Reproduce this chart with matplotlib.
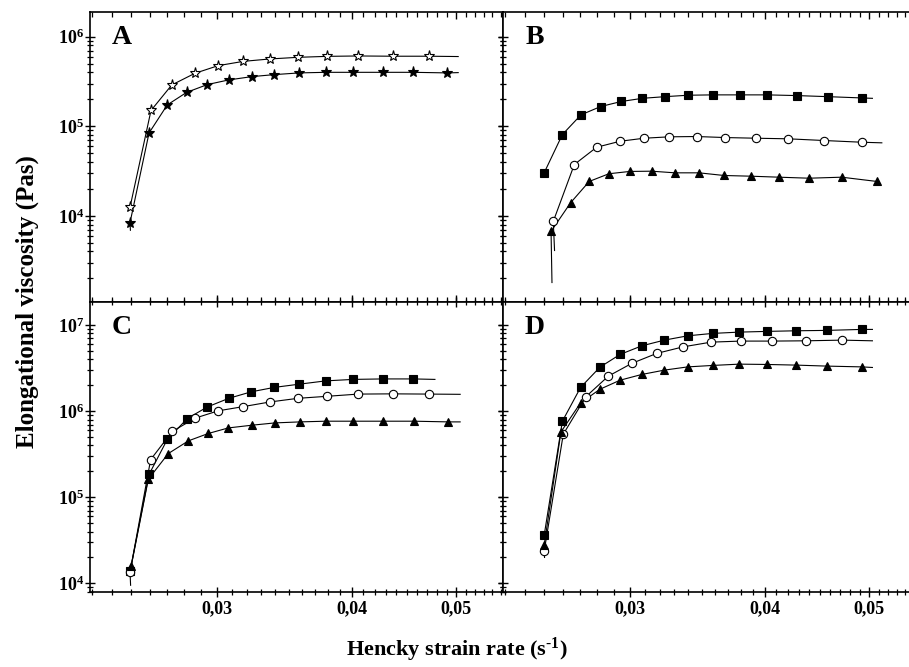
import numpy as np
import matplotlib
matplotlib.use('Agg')
import matplotlib.pyplot as plt
from matplotlib.ticker import (FixedLocator, LogLocator, NullFormatter,
                               FixedFormatter, LogFormatterSciNotation)

plt.rcParams['font.family'] = ['Liberation Serif', 'DejaVu Serif']
plt.rcParams['font.weight'] = 'bold'
plt.rcParams['mathtext.fontset'] = 'custom'
plt.rcParams['mathtext.rm'] = 'Liberation Serif:bold'
plt.rcParams['mathtext.bf'] = 'Liberation Serif:bold'
plt.rcParams['mathtext.it'] = 'Liberation Serif:bold:italic'
plt.rcParams['mathtext.default'] = 'bf'

# ---------------- data ----------------
# Panel A (stars)
a_open_x = [0.02494, 0.02608, 0.02726, 0.02864, 0.03010, 0.03175, 0.03361, 0.03566, 0.03798, 0.04057, 0.04366, 0.04720]
a_open_y = [1.25e4, 1.50e5, 2.89e5, 3.90e5, 4.75e5, 5.30e5, 5.64e5, 5.88e5, 6.03e5, 6.09e5, 6.05e5, 6.05e5]
a_open_end = (0.0502, 6.0e5)
a_fill_x = [0.02494, 0.02597, 0.02700, 0.02814, 0.02941, 0.03078, 0.03233, 0.03392, 0.03578, 0.03785, 0.04014, 0.04274, 0.04562, 0.04906]
a_fill_y = [8.4e3, 8.4e4, 1.73e5, 2.39e5, 2.92e5, 3.29e5, 3.58e5, 3.77e5, 3.94e5, 4.0e5, 4.0e5, 4.0e5, 4.0e5, 3.94e5]
a_fill_start = (0.02496, 6.9e3)
a_fill_end = (0.0502, 3.97e5)

# Panel B
b_sq_x = [0.02499, 0.02599, 0.02704, 0.02820, 0.02947, 0.03082, 0.03235, 0.03399, 0.03585, 0.03796, 0.04022, 0.04283, 0.04576, 0.04921]
b_sq_y = [2.99e4, 8.08e4, 1.34e5, 1.66e5, 1.89e5, 2.05e5, 2.14e5, 2.22e5, 2.24e5, 2.24e5, 2.24e5, 2.20e5, 2.14e5, 2.07e5]
b_sq_end = (0.05033, 2.05e5)
b_ci_x = [0.02549, 0.02666, 0.02796, 0.02939, 0.03093, 0.03264, 0.03460, 0.03676, 0.03928, 0.04207, 0.04540, 0.04921]
b_ci_y = [8.66e3, 3.74e4, 5.83e4, 6.80e4, 7.35e4, 7.62e4, 7.68e4, 7.48e4, 7.35e4, 7.24e4, 6.93e4, 6.63e4]
b_ci_start = (0.02556, 4.1e3)
b_ci_end = (0.05135, 6.53e4)
b_tr_x = [0.02537, 0.02645, 0.02752, 0.02870, 0.03001, 0.03144, 0.03304, 0.03478, 0.03668, 0.03883, 0.04124, 0.04397, 0.04714, 0.05081]
b_tr_y = [6.7e3, 1.40e4, 2.42e4, 2.95e4, 3.13e4, 3.15e4, 3.02e4, 3.02e4, 2.82e4, 2.77e4, 2.70e4, 2.63e4, 2.70e4, 2.42e4]
b_tr_start = (0.02542, 1.8e3)

# Panel C
c_sq_x = [0.02494, 0.02597, 0.02700, 0.02818, 0.02941, 0.03078, 0.03230, 0.03392, 0.03578, 0.03785, 0.04014, 0.04274, 0.04562]
c_sq_y = [1.38e4, 1.84e5, 4.69e5, 8.22e5, 1.12e6, 1.41e6, 1.68e6, 1.89e6, 2.06e6, 2.25e6, 2.34e6, 2.37e6, 2.37e6]
c_sq_end = (0.04777, 2.34e6)
c_ci_x = [0.02494, 0.02606, 0.02729, 0.02864, 0.03010, 0.03175, 0.03361, 0.03566, 0.03798, 0.04057, 0.04366, 0.04720]
c_ci_y = [1.35e4, 2.74e5, 5.81e5, 8.29e5, 1.01e6, 1.13e6, 1.28e6, 1.41e6, 1.49e6, 1.58e6, 1.59e6, 1.58e6]
c_ci_start = (0.02497, 9.5e3)
c_ci_end = (0.05041, 1.57e6)
c_tr_x = [0.02500, 0.02593, 0.02706, 0.02824, 0.02947, 0.03075, 0.03236, 0.03397, 0.03583, 0.03785, 0.04014, 0.04274, 0.04570, 0.04917]
c_tr_y = [1.58e4, 1.62e5, 3.22e5, 4.52e5, 5.51e5, 6.39e5, 6.88e5, 7.31e5, 7.51e5, 7.65e5, 7.65e5, 7.65e5, 7.65e5, 7.51e5]
c_tr_end = (0.05041, 7.51e5)

# Panel D
d_sq_x = [0.02500, 0.02599, 0.02702, 0.02816, 0.02939, 0.03078, 0.03230, 0.03395, 0.03581, 0.03790, 0.04017, 0.04277, 0.04566, 0.04921]
d_sq_y = [3.61e4, 7.65e5, 1.89e6, 3.25e6, 4.56e6, 5.74e6, 6.69e6, 7.51e6, 8.01e6, 8.29e6, 8.45e6, 8.59e6, 8.68e6, 8.91e6]
d_sq_end = (0.05033, 8.91e6)
d_ci_x = [0.02500, 0.02604, 0.02732, 0.02866, 0.03013, 0.03178, 0.03362, 0.03568, 0.03801, 0.04062, 0.04366, 0.04720]
d_ci_y = [2.36e4, 5.40e5, 1.47e6, 2.55e6, 3.59e6, 4.69e6, 5.59e6, 6.34e6, 6.52e6, 6.52e6, 6.57e6, 6.69e6]
d_ci_start = (0.02502, 2.0e4)
d_ci_end = (0.05033, 6.57e6)
d_tr_x = [0.02500, 0.02591, 0.02702, 0.02816, 0.02939, 0.03078, 0.03230, 0.03395, 0.03581, 0.03790, 0.04017, 0.04277, 0.04566, 0.04921]
d_tr_y = [2.77e4, 5.74e5, 1.25e6, 1.80e6, 2.29e6, 2.67e6, 3.00e6, 3.27e6, 3.40e6, 3.52e6, 3.49e6, 3.43e6, 3.34e6, 3.27e6]
d_tr_end = (0.05033, 3.22e6)

x_major = [0.03, 0.04, 0.05]
x_major_labels = ['0,03', '0,04', '0,05']
panel_letters = ['A', 'B', 'C', 'D']
xlim = (0.0229, 0.05523)
ylim_top = (1.1e3, 1.9e6)
ylim_bot = (8.0e3, 1.87e7)

# ---------------- figure ----------------
W, H = 909, 667
fig = plt.figure(figsize=(W / 100, H / 100), dpi=100)

def rect(x0, y0, x1, y1):
    return [x0 / W, 1 - y1 / H, (x1 - x0) / W, (y1 - y0) / H]

axA = fig.add_axes(rect(90, 11.7, 503, 301.7))
axB = fig.add_axes(rect(503, 11.7, 916, 301.7))
axC = fig.add_axes(rect(90, 301.7, 503, 591.7))
axD = fig.add_axes(rect(503, 301.7, 916, 591.7))

LW = 0.8

def series(ax, mx, my, marker, filled, ms, start=None, end=None):
    lx, ly = list(mx), list(my)
    if start is not None:
        lx = [start[0]] + lx
        ly = [start[1]] + ly
    if end is not None:
        lx = lx + [end[0]]
        ly = ly + [end[1]]
    ax.plot(lx, ly, '-', color='black', lw=LW, zorder=2)
    ax.plot(mx, my, linestyle='none', marker=marker, markersize=ms,
            markerfacecolor='black' if filled else 'white',
            markeredgecolor='black', markeredgewidth=0.8, zorder=3)

series(axA, a_open_x, a_open_y, '*', False, 8.0, end=a_open_end)
series(axA, a_fill_x, a_fill_y, '*', True, 8.0, start=a_fill_start, end=a_fill_end)

series(axB, b_sq_x, b_sq_y, 's', True, 5.3, end=b_sq_end)
series(axB, b_ci_x, b_ci_y, 'o', False, 6.0, start=b_ci_start, end=b_ci_end)
series(axB, b_tr_x, b_tr_y, '^', True, 6.3, start=b_tr_start)

series(axC, c_sq_x, c_sq_y, 's', True, 5.3, end=c_sq_end)
series(axC, c_ci_x, c_ci_y, 'o', False, 6.0, start=c_ci_start, end=c_ci_end)
series(axC, c_tr_x, c_tr_y, '^', True, 6.3, end=c_tr_end)

series(axD, d_sq_x, d_sq_y, 's', True, 5.3, end=d_sq_end)
series(axD, d_ci_x, d_ci_y, 'o', False, 6.0, start=d_ci_start, end=d_ci_end)
series(axD, d_tr_x, d_tr_y, '^', True, 6.3, end=d_tr_end)

minor_x = [m / 1000 for m in range(23, 56) if m not in (30, 40, 50)]

for i, ax in enumerate([axA, axB, axC, axD]):
    top = i < 2
    left = i % 2 == 0
    ax.set_xscale('log')
    ax.set_yscale('log')
    ax.set_xlim(*xlim)
    ax.set_ylim(*(ylim_top if top else ylim_bot))
    ax.xaxis.set_major_locator(FixedLocator(x_major))
    ax.xaxis.set_minor_locator(FixedLocator(minor_x))
    ax.xaxis.set_minor_formatter(NullFormatter())
    if top:
        ax.xaxis.set_major_formatter(NullFormatter())
    else:
        ax.xaxis.set_major_formatter(FixedFormatter(x_major_labels))
    ax.yaxis.set_major_locator(LogLocator(base=10, numticks=10))
    ax.yaxis.set_minor_locator(LogLocator(base=10, subs=np.arange(2, 10), numticks=20))
    ax.yaxis.set_minor_formatter(NullFormatter())
    if left:
        ax.yaxis.set_major_formatter(LogFormatterSciNotation())
    else:
        ax.yaxis.set_major_formatter(NullFormatter())
    xdir = 'in' if top else 'inout'
    ax.tick_params(axis='x', which='major', direction=xdir, length=7 if xdir == 'inout' else 5,
                   width=1.0, top=True, bottom=True, labelsize=13, pad=3)
    ax.tick_params(axis='x', which='minor', direction=xdir, length=4.5 if xdir == 'inout' else 3.5,
                   width=0.9, top=True, bottom=True)
    ax.tick_params(axis='y', which='major', direction='inout', length=7, width=1.0,
                   left=True, right=True, labelsize=13, pad=1)
    ax.tick_params(axis='y', which='minor', direction='inout', length=5, width=0.9,
                   left=True, right=True)
    for sp in ax.spines.values():
        sp.set_linewidth(1.2)
    for lab in ax.get_xticklabels() + ax.get_yticklabels():
        lab.set_fontweight('bold')
    ax.text(0.077, 0.912, panel_letters[i], transform=ax.transAxes,
            fontsize=20, fontweight='bold', ha='center', va='center')

fig.text(27 / W, 1 - 302 / H, 'Elongational viscosity (Pas)', rotation=90,
         fontsize=18, fontweight='bold', ha='center', va='center')
fig.text(457 / W, 1 - 650 / H, r'Hencky strain rate (s$^{\text{-}1}$)',
         fontsize=16, fontweight='bold', ha='center', va='center')

fig.savefig('out.png', dpi=100)
